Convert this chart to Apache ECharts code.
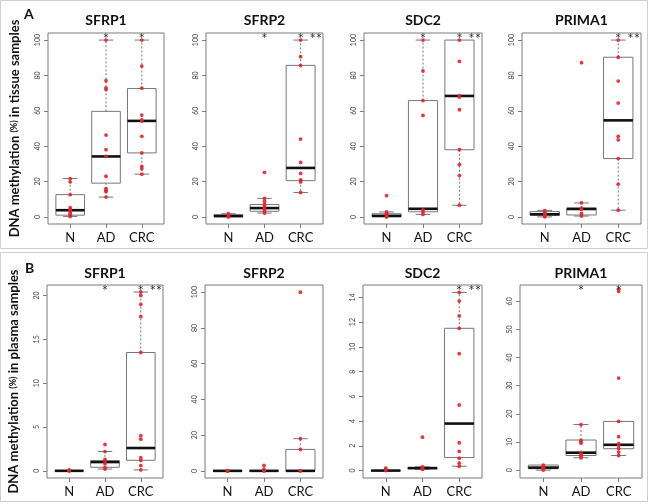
<!DOCTYPE html>
<html><head><meta charset="utf-8">
<script src="https://cdn.jsdelivr.net/npm/echarts@6/dist/echarts.min.js"></script>
<style>html,body{margin:0;padding:0;background:#fff}#c{width:651px;height:504px}</style>
</head><body><div id="c"></div>
<script>
const categories = ['N', 'AD', 'CRC'];
const genes = ['SFRP1', 'SFRP2', 'SDC2', 'PRIMA1'];

// ---- Tissue samples (panel A) ----
const tissueSFRP1Points = [
  [21.7, 19.8, 12.6, 5.2, 4.2, 3.2, 2.0, 1.0, 0.3],
  [100, 77, 73, 72, 46.3, 38, 34.2, 23, 16, 15, 14.3, 11.2],
  [100, 85.3, 72.8, 57.6, 54.8, 54.2, 45.6, 36.2, 28.5, 27.2, 24.2]
];
const tissueSFRP1Boxes = [
  [0.3, 1.0, 3.8, 12.6, 21.7],
  [11.2, 19.1, 34.2, 59.7, 100],
  [24.2, 36.2, 54.3, 72.6, 100]
];
const tissueSFRP2Points = [
  [1.8, 1.2, 0.6, 0.3, 0],
  [25.2, 10.5, 8.8, 7.2, 6.2, 5.2, 4.2, 3.2, 2.2],
  [100, 90.6, 85.6, 44, 30.8, 24.6, 21, 20.4, 19.8, 13.8]
];
const tissueSFRP2Boxes = [
  [0, 0.1, 0.5, 1.2, 1.8],
  [2.2, 3.2, 5.0, 7.0, 10.5],
  [13.8, 20.5, 27.7, 85.7, 100]
];
const tissueSDC2Points = [
  [12, 2.8, 2, 1.2, 0.6, 0.2, 0],
  [100, 82.5, 65.8, 57.4, 4.0, 2.8, 1.4],
  [100, 87.9, 68.6, 67.8, 60.6, 38, 29.6, 23.4, 6.6]
];
const tissueSDC2Boxes = [
  [0, 0.1, 0.6, 1.8, 2.8],
  [1.4, 2.9, 4.6, 65.8, 100],
  [6.6, 38, 68.4, 100, 100]
];
const tissuePRIMA1Points = [
  [3.6, 2.6, 1.6, 1.1, 0.6, 0.1],
  [87.2, 7.9, 5.0, 4.4, 2.0, 0.5],
  [100, 90.3, 76.8, 64.4, 45.6, 43.6, 33, 18.5, 3.8]
];
const tissuePRIMA1Boxes = [
  [0, 0.9, 1.5, 3.0, 3.7],
  [0.5, 1.1, 4.5, 5.0, 7.9],
  [3.8, 33, 54.6, 90.3, 100]
];
const tissueTicks = [0, 20, 40, 60, 80, 100];
const tissueRange = [-4, 104];

// ---- Plasma samples (panel B) ----
const plasmaSFRP1Points = [
  [0.1, 0, 0],
  [3.0, 2.2, 1.3, 1.0, 0.8, 0.4, 0.2],
  [20.4, 20.0, 19.0, 17.6, 13.5, 4.0, 3.6, 1.5, 1.2, 0.6, 0.1]
];
const plasmaSFRP1Boxes = [
  [0, 0, 0, 0, 0],
  [0.2, 0.4, 1.0, 1.15, 2.2],
  [0.1, 1.2, 2.6, 13.5, 20.4]
];
const plasmaSFRP2Points = [
  [0, 0, 0],
  [3.0, 1.0, 0, 0],
  [100, 18, 12, 0, 0]
];
const plasmaSFRP2Boxes = [
  [0, 0, 0, 0, 0],
  [0, 0, 0, 0, 0],
  [0, 0, 0, 12, 18]
];
const plasmaSDC2Points = [
  [0.2, 0.1, 0],
  [2.7, 0.3, 0.2, 0.15, 0.1],
  [14.4, 13.7, 12.5, 11.5, 9.45, 5.3, 2.25, 1.55, 1.0, 0.6, 0.35]
];
const plasmaSDC2Boxes = [
  [0, 0, 0, 0, 0],
  [0.1, 0.15, 0.2, 0.22, 0.3],
  [0.35, 1.05, 3.8, 11.5, 14.4]
];
const plasmaPRIMA1Points = [
  [1.8, 1.4, 1.0, 0.7, 0.4, 0],
  [16.2, 10.6, 10.0, 9.6, 6.2, 5.6, 5.0, 4.4],
  [64.3, 63.5, 32.7, 17.3, 11.9, 9.4, 8.8, 7.7, 6.4, 5.2]
];
const plasmaPRIMA1Boxes = [
  [0, 0.5, 0.9, 1.8, 1.9],
  [4.4, 5.2, 6.2, 10.7, 16.2],
  [5.2, 7.6, 9.0, 17.3, 17.3]
];
const plasmaSFRP1Ticks = [0, 5, 10, 15, 20];
const plasmaSFRP2Ticks = [0, 20, 40, 60, 80, 100];
const plasmaSDC2Ticks = [0, 2, 4, 6, 8, 10, 12, 14];
const plasmaPRIMA1Ticks = [0, 10, 20, 30, 40, 50, 60];

// significance marks: [x position on category scale, text]
const tissueSFRP1Stars = [[2, '*'], [3, '*']];
const tissueSFRP2Stars = [[2, '*'], [3, '*'], [3.42, '**']];
const tissueSDC2Stars = [[2, '*'], [3, '*'], [3.42, '**']];
const tissuePRIMA1Stars = [[3, '*'], [3.42, '**']];
const plasmaSFRP1Stars = [[2, '*'], [3, '*'], [3.42, '**']];
const plasmaSFRP2Stars = [];
const plasmaSDC2Stars = [[3, '*'], [3.42, '**']];
const plasmaPRIMA1Stars = [[2, '*'], [3, '*']];

const panels = [
  {gene: genes[0], points: tissueSFRP1Points, boxes: tissueSFRP1Boxes, ticks: tissueTicks, range: tissueRange, stars: tissueSFRP1Stars},
  {gene: genes[1], points: tissueSFRP2Points, boxes: tissueSFRP2Boxes, ticks: tissueTicks, range: tissueRange, stars: tissueSFRP2Stars},
  {gene: genes[2], points: tissueSDC2Points, boxes: tissueSDC2Boxes, ticks: tissueTicks, range: tissueRange, stars: tissueSDC2Stars},
  {gene: genes[3], points: tissuePRIMA1Points, boxes: tissuePRIMA1Boxes, ticks: tissueTicks, range: tissueRange, stars: tissuePRIMA1Stars},
  {gene: genes[0], points: plasmaSFRP1Points, boxes: plasmaSFRP1Boxes, ticks: plasmaSFRP1Ticks, range: [-0.82, 21.2], stars: plasmaSFRP1Stars},
  {gene: genes[1], points: plasmaSFRP2Points, boxes: plasmaSFRP2Boxes, ticks: plasmaSFRP2Ticks, range: [-4, 104], stars: plasmaSFRP2Stars},
  {gene: genes[2], points: plasmaSDC2Points, boxes: plasmaSDC2Boxes, ticks: plasmaSDC2Ticks, range: [-0.6, 15.0], stars: plasmaSDC2Stars},
  {gene: genes[3], points: plasmaPRIMA1Points, boxes: plasmaPRIMA1Boxes, ticks: plasmaPRIMA1Ticks, range: [-2.8, 65.8], stars: plasmaPRIMA1Stars}
];

// layout (pixels)
const layout = [
  {left: 48, top: 33, width: 116, height: 191},
  {left: 206, top: 33, width: 117, height: 191},
  {left: 364, top: 33, width: 118, height: 191},
  {left: 522, top: 33, width: 119, height: 191},
  {left: 47, top: 285, width: 116, height: 193},
  {left: 205, top: 285, width: 118, height: 193},
  {left: 363, top: 285, width: 119, height: 193},
  {left: 520, top: 285, width: 122, height: 193}
];

const FONT = 'Lato, "Open Sans", sans-serif';
const chart = echarts.init(document.getElementById('c'), null, {renderer: 'canvas'});

const grids = [], xAxes = [], yAxes = [], series = [], graphics = [];

function renderBox(params, api) {
  const x = api.value(0);
  const mn = api.value(1), q1 = api.value(2), md = api.value(3), q3 = api.value(4), mx = api.value(5);
  const pL = api.coord([x - 0.4, q3]);
  const pR = api.coord([x + 0.4, q1]);
  const cL = api.coord([x - 0.2, mx])[0];
  const cR = api.coord([x + 0.2, mx])[0];
  const cx = api.coord([x, md])[0];
  const yMax = api.coord([x, mx])[1];
  const yMin = api.coord([x, mn])[1];
  const yMd = api.coord([x, md])[1];
  const stroke = '#777';
  const children = [];
  if (yMax < pL[1] - 0.5) {
    children.push({type: 'line', shape: {x1: cx, y1: pL[1], x2: cx, y2: yMax}, style: {stroke, lineWidth: 1, lineDash: [2, 2]}});
    children.push({type: 'line', shape: {x1: cL, y1: yMax, x2: cR, y2: yMax}, style: {stroke, lineWidth: 1}});
  }
  if (yMin > pR[1] + 0.5) {
    children.push({type: 'line', shape: {x1: cx, y1: pR[1], x2: cx, y2: yMin}, style: {stroke, lineWidth: 1, lineDash: [2, 2]}});
    children.push({type: 'line', shape: {x1: cL, y1: yMin, x2: cR, y2: yMin}, style: {stroke, lineWidth: 1}});
  }
  children.push({type: 'rect', shape: {x: pL[0], y: pL[1], width: pR[0] - pL[0], height: Math.max(pR[1] - pL[1], 0)}, style: {fill: '#fff', stroke, lineWidth: 1}});
  children.push({type: 'line', shape: {x1: pL[0], y1: yMd, x2: pR[0], y2: yMd}, style: {stroke: '#111', lineWidth: 2.6}});
  return {type: 'group', children};
}

panels.forEach((p, i) => {
  const L = layout[i];
  grids.push({left: L.left, top: L.top, width: L.width, height: L.height, show: true, borderColor: '#7a7a7a', borderWidth: 1, backgroundColor: 'transparent'});
  xAxes.push({
    gridIndex: i, type: 'value', min: 0.38, max: 3.62,
    axisLine: {show: false, onZero: false},
    axisTick: {show: true, customValues: [1, 2, 3], length: 4, lineStyle: {color: '#7a7a7a'}},
    axisLabel: {customValues: [1, 2, 3], formatter: v => categories[Math.round(v) - 1], fontFamily: FONT, fontSize: 13, color: '#111', margin: 7},
    splitLine: {show: false}
  });
  const yAx = {
    gridIndex: i, type: 'value', min: p.range[0], max: p.range[1],
    axisLine: {show: false, onZero: false},
    axisTick: {show: true, customValues: p.ticks, length: 4, lineStyle: {color: '#7a7a7a'}},
    axisLabel: {customValues: p.ticks, rotate: 90, fontFamily: FONT, fontSize: 7, color: '#444', margin: 7},
    splitLine: {show: false}
  };
  if (i === 0 || i === 4) {
    yAx.name = 'DNA methylation {s|(%)} in ' + (i === 0 ? 'tissue' : 'plasma') + ' samples';
    yAx.nameLocation = 'middle';
    yAx.nameRotate = 90;
    yAx.nameGap = 27;
    yAx.nameTextStyle = {fontFamily: FONT, fontWeight: 'bold', fontSize: 13, color: '#111',
      rich: {s: {fontFamily: FONT, fontWeight: 'bold', fontSize: 9, color: '#111'}}};
  }
  yAxes.push(yAx);

  series.push({
    type: 'custom', xAxisIndex: i, yAxisIndex: i, z: 2,
    renderItem: renderBox,
    encode: {x: 0, y: [1, 2, 3, 4, 5]},
    data: p.boxes.map((b, k) => [k + 1].concat(b))
  });
  const pts = [];
  p.points.forEach((arr, k) => arr.forEach(v => pts.push([k + 1, v])));
  series.push({
    type: 'scatter', xAxisIndex: i, yAxisIndex: i, z: 5,
    symbol: 'circle', symbolSize: 3.8,
    itemStyle: {color: '#e2252e', opacity: 0.9},
    data: pts
  });
  if (p.stars.length) {
    series.push({
      type: 'custom', xAxisIndex: i, yAxisIndex: i, z: 6,
      renderItem: (params, api) => {
        const c = api.coord([api.value(0), p.range[1]]);
        return {type: 'text', x: c[0], y: c[1] - 1,
          style: {text: p.stars[params.dataIndex][1], textAlign: 'center', textVerticalAlign: 'top',
            font: '15px ' + FONT, fill: '#333'}};
      },
      encode: {x: 0},
      data: p.stars.map(s => [s[0]])
    });
  }
  graphics.push({type: 'text', x: L.left + L.width / 2, y: (i < 4 ? 13 : 266),
    style: {text: p.gene, textAlign: 'center', textVerticalAlign: 'top', font: 'bold 14px ' + FONT, fill: '#111'}});
});

graphics.push({type: 'rect', shape: {x: 0.5, y: 0.5, width: 647, height: 248}, style: {fill: 'none', stroke: '#cfcfcf', lineWidth: 1}, z: -10});
graphics.push({type: 'rect', shape: {x: 0.5, y: 252.5, width: 647, height: 249}, style: {fill: 'none', stroke: '#cfcfcf', lineWidth: 1}, z: -10});
graphics.push({type: 'text', x: 24, y: 7, style: {text: 'A', font: 'bold 14px ' + FONT, fill: '#111'}});
graphics.push({type: 'text', x: 25, y: 261, style: {text: 'B', font: 'bold 14px ' + FONT, fill: '#111'}});

chart.setOption({
  animation: false,
  backgroundColor: '#fff',
  grid: grids, xAxis: xAxes, yAxis: yAxes, series: series,
  graphic: graphics
});
</script></body></html>
